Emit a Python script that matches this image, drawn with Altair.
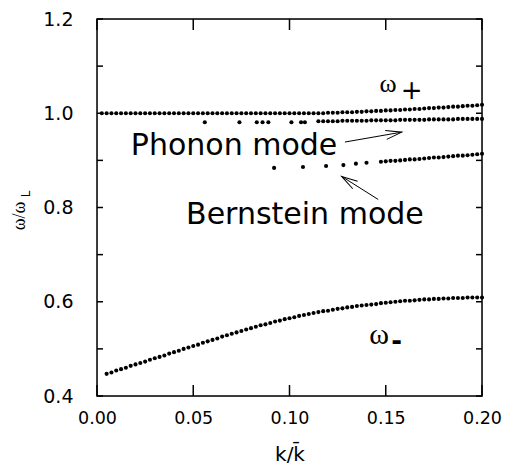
import altair as alt
import pandas as pd

# ---------------- data ----------------
K_MINUS = [0.005, 0.0075, 0.010, 0.0125, 0.015, 0.0175, 0.020, 0.0225, 0.025, 0.0275,
           0.030, 0.0325, 0.035, 0.0375, 0.040, 0.0425, 0.045, 0.0475, 0.050, 0.0525,
           0.055, 0.0575, 0.060, 0.0625, 0.065, 0.0675, 0.070, 0.0725, 0.075, 0.0775,
           0.080, 0.0825, 0.085, 0.0875, 0.090, 0.0925, 0.095, 0.0975, 0.100, 0.1025,
           0.105, 0.1075, 0.110, 0.1125, 0.115, 0.1175, 0.120, 0.1225, 0.125, 0.1275,
           0.130, 0.1325, 0.135, 0.1375, 0.140, 0.1425, 0.145, 0.1475, 0.150, 0.1525,
           0.155, 0.1575, 0.160, 0.1625, 0.165, 0.1675, 0.170, 0.1725, 0.175, 0.1775,
           0.180, 0.1825, 0.185, 0.1875, 0.190, 0.1925, 0.195, 0.1975, 0.200]
W_MINUS = [0.447, 0.450, 0.454, 0.457, 0.460, 0.464, 0.467, 0.470, 0.473, 0.477,
           0.480, 0.483, 0.486, 0.490, 0.493, 0.496, 0.500, 0.503, 0.506, 0.509,
           0.513, 0.516, 0.519, 0.522, 0.526, 0.529, 0.532, 0.535, 0.538, 0.541,
           0.544, 0.547, 0.550, 0.552, 0.555, 0.558, 0.560, 0.563, 0.565, 0.567,
           0.570, 0.572, 0.574, 0.576, 0.578, 0.580, 0.581, 0.583, 0.585, 0.586,
           0.588, 0.589, 0.591, 0.592, 0.593, 0.594, 0.595, 0.597, 0.598, 0.599,
           0.600, 0.601, 0.602, 0.602, 0.603, 0.604, 0.605, 0.605, 0.606, 0.606,
           0.607, 0.607, 0.608, 0.608, 0.608, 0.609, 0.609, 0.609, 0.609]

K_PLUS = [0.0025] + K_MINUS
W_PLUS = [1.000, 1.000, 1.000, 1.000, 1.000, 1.000, 1.000, 1.000, 1.000, 1.000,
          1.000, 1.000, 1.000, 1.000, 1.000, 1.000, 1.000, 1.000, 1.000, 1.000,
          1.000, 1.000, 1.000, 1.000, 1.000, 1.000, 1.000, 1.000, 1.000, 1.000,
          1.000, 1.000, 1.000, 1.000, 1.000, 1.000, 1.000, 1.000, 1.000, 1.000,
          1.000, 1.000, 1.000, 1.000, 1.000, 1.000, 1.000, 1.001, 1.001, 1.001,
          1.002, 1.002, 1.002, 1.003, 1.003, 1.004, 1.004, 1.005, 1.005, 1.006,
          1.006, 1.007, 1.007, 1.008, 1.008, 1.009, 1.009, 1.010, 1.011, 1.011,
          1.012, 1.012, 1.013, 1.014, 1.014, 1.015, 1.016, 1.016, 1.017, 1.018]

K_PHONON = [0.056, 0.074, 0.083, 0.086, 0.089, 0.101, 0.106, 0.108,
            0.115, 0.1175, 0.120, 0.1225, 0.125, 0.1275, 0.130, 0.1325, 0.135, 0.1375,
            0.140, 0.1425, 0.145, 0.1475, 0.150, 0.1525, 0.155, 0.1575, 0.160, 0.1625,
            0.165, 0.1675, 0.170, 0.1725, 0.175, 0.1775, 0.180, 0.1825, 0.185, 0.1875,
            0.190, 0.1925, 0.195, 0.1975, 0.200]
W_PHONON = [0.981, 0.981, 0.981, 0.981, 0.981, 0.981, 0.981, 0.981,
            0.983, 0.983, 0.983, 0.983, 0.983, 0.984, 0.984, 0.984, 0.984, 0.984,
            0.984, 0.985, 0.985, 0.985, 0.985, 0.985, 0.985, 0.986, 0.986, 0.986,
            0.986, 0.986, 0.986, 0.987, 0.987, 0.987, 0.987, 0.987, 0.987, 0.988,
            0.988, 0.988, 0.988, 0.988, 0.988]

K_BERN = [0.092, 0.107, 0.119, 0.128, 0.1345, 0.140,
          0.1475, 0.150, 0.1525, 0.155, 0.1575, 0.160, 0.1625, 0.165, 0.1675, 0.170,
          0.1725, 0.175, 0.1775, 0.180, 0.1825, 0.185, 0.1875, 0.190, 0.1925, 0.195,
          0.1975, 0.200]
W_BERN = [0.884, 0.886, 0.888, 0.890, 0.893, 0.895,
          0.897, 0.898, 0.899, 0.899, 0.900, 0.901, 0.902, 0.902, 0.903, 0.904,
          0.905, 0.906, 0.906, 0.907, 0.908, 0.909, 0.910, 0.910, 0.911, 0.912,
          0.913, 0.914]

X_TICKS = [0.0, 0.05, 0.10, 0.15, 0.20]
Y_TICKS = [0.4, 0.6, 0.8, 1.0, 1.2]
Y_MINOR = [0.4, 0.5, 0.6, 0.7, 0.8, 0.9, 1.0, 1.1, 1.2]

# annotations (data coordinates)
MODE_TEXT = ["Phonon mode", "Bernstein mode"]
MODE_K = [0.0712, 0.108]
MODE_W = [0.9107, 0.7658]

OMEGA_TEXT = ["ω", "ω"]
OMEGA_K = [0.1512, 0.1465]
OMEGA_W = [1.0445, 0.511]
OMEGA_SIZE = [26, 30]

SIGN_TEXT = ["+", "-"]
SIGN_K = [0.1634, 0.1556]
SIGN_W = [1.031, 0.4977]
SIGN_SIZE = [26, 26]

ARROW_K = [0.1288, 0.1461]
ARROW_W = [0.9389, 0.817]
ARROW_K2 = [0.1583, 0.1271]
ARROW_W2 = [0.9599, 0.866]
ARROW_ANGLE = [350, 212.5]

W, H = 385, 377

# ---------------- build tables ----------------
pts = pd.concat([
    pd.DataFrame({"k": K_PLUS, "w": W_PLUS, "s": "plus"}),
    pd.DataFrame({"k": K_MINUS, "w": W_MINUS, "s": "minus"}),
    pd.DataFrame({"k": K_PHONON, "w": W_PHONON, "s": "phonon"}),
    pd.DataFrame({"k": K_BERN, "w": W_BERN, "s": "bernstein"}),
], ignore_index=True)

xscale = alt.Scale(domain=[0, 0.2], nice=False, zero=False)
yscale = alt.Scale(domain=[0.4, 1.2], nice=False, zero=False)

x_axis = alt.Axis(values=X_TICKS, format=".2f", grid=False, ticks=False, tickSize=0,
                  domain=False, labelFont="DejaVu Sans", labelFontSize=17.5,
                  labelColor="black", labelPadding=13, labelBound=False,
                  labelFlush=False, labelOverlap=False,
                  title="k/k\u0304", titleFont="DejaVu Sans", titleFontSize=20,
                  titleFontWeight="normal", titleColor="black", titlePadding=18)
y_axis = alt.Axis(values=Y_TICKS, format=".1f", grid=False, ticks=False, tickSize=0,
                  domain=False, labelFont="DejaVu Sans", labelFontSize=19,
                  labelColor="black", labelPadding=24, labelBound=False,
                  labelFlush=False, labelOverlap=False, title=None)

dots = alt.Chart(pts).mark_circle(size=17, color="black", opacity=1).encode(
    x=alt.X("k:Q", scale=xscale, axis=x_axis),
    y=alt.Y("w:Q", scale=yscale, axis=y_axis),
    detail="s:N",
)

frame = alt.Chart(pd.DataFrame({"f": [0]})).mark_rect(
    fill=None, stroke="black", strokeWidth=1.5, fillOpacity=0
).encode(x=alt.value(0), x2=alt.value(W), y=alt.value(0), y2=alt.value(H))

xt = pd.DataFrame({"t": X_TICKS})
yt = pd.DataFrame({"t": Y_MINOR})
tick_bottom = alt.Chart(xt).mark_rule(color="black", strokeWidth=1.5).encode(
    x=alt.X("t:Q", scale=xscale), y=alt.value(H), y2=alt.value(H - 11))
tick_top = alt.Chart(xt).mark_rule(color="black", strokeWidth=1.5).encode(
    x=alt.X("t:Q", scale=xscale), y=alt.value(0), y2=alt.value(11))
tick_left = alt.Chart(yt).mark_rule(color="black", strokeWidth=1.5).encode(
    y=alt.Y("t:Q", scale=yscale), x=alt.value(0), x2=alt.value(6))
tick_right = alt.Chart(yt).mark_rule(color="black", strokeWidth=1.5).encode(
    y=alt.Y("t:Q", scale=yscale), x=alt.value(W), x2=alt.value(W - 6))

modes = alt.Chart(pd.DataFrame({"t": MODE_TEXT, "k": MODE_K, "w": MODE_W})).mark_text(
    font="DejaVu Sans", fontSize=30, color="black", align="center", baseline="alphabetic"
).encode(x=alt.X("k:Q", scale=xscale), y=alt.Y("w:Q", scale=yscale), text="t:N")

omegas = alt.Chart(pd.DataFrame({"t": OMEGA_TEXT, "k": OMEGA_K, "w": OMEGA_W,
                                 "fs": OMEGA_SIZE})).mark_text(
    font="Liberation Serif", color="black", align="center", baseline="alphabetic"
).encode(x=alt.X("k:Q", scale=xscale), y=alt.Y("w:Q", scale=yscale), text="t:N",
         size=alt.Size("fs:Q", scale=None, legend=None))

signs_df = pd.DataFrame({"t": SIGN_TEXT, "k": SIGN_K, "w": SIGN_W, "fs": SIGN_SIZE})
sign_plus = alt.Chart(signs_df.iloc[[0]]).mark_text(
    font="DejaVu Sans", color="black", align="center", baseline="alphabetic",
    fontWeight="normal"
).encode(x=alt.X("k:Q", scale=xscale), y=alt.Y("w:Q", scale=yscale), text="t:N",
         size=alt.Size("fs:Q", scale=None, legend=None))
sign_minus = alt.Chart(signs_df.iloc[[1]]).mark_text(
    font="DejaVu Sans", color="black", align="center", baseline="alphabetic",
    fontWeight="bold"
).encode(x=alt.X("k:Q", scale=xscale), y=alt.Y("w:Q", scale=yscale), text="t:N",
         size=alt.Size("fs:Q", scale=None, legend=None))

arrows_df = pd.DataFrame({"k": ARROW_K, "w": ARROW_W, "k2": ARROW_K2, "w2": ARROW_W2,
                          "a": ARROW_ANGLE})
arrow_lines = alt.Chart(arrows_df).mark_rule(color="black", strokeWidth=1).encode(
    x=alt.X("k:Q", scale=xscale), y=alt.Y("w:Q", scale=yscale), x2="k2:Q", y2="w2:Q")
arrow_heads = alt.Chart(arrows_df).mark_point(
    shape="M -1 -0.28 L 0 0 L -1 0.28", filled=False, color="black", strokeWidth=1,
    size=1024, opacity=1
).encode(x=alt.X("k2:Q", scale=xscale), y=alt.Y("w2:Q", scale=yscale),
         angle=alt.Angle("a:Q", scale=None))

ytitle = alt.Chart(pd.DataFrame({"t": ["ω/ω"]})).mark_text(
    font="Liberation Serif", fontSize=18, angle=270, align="center",
    baseline="alphabetic", color="black"
).encode(text="t:N", x=alt.value(-72), y=alt.value(197))
ytitle_sub = alt.Chart(pd.DataFrame({"t": ["L"]})).mark_text(
    font="DejaVu Sans", fontSize=12, angle=270, align="center",
    baseline="alphabetic", color="black"
).encode(text="t:N", x=alt.value(-67), y=alt.value(175))

chart = alt.layer(
    dots, frame, tick_bottom, tick_top, tick_left, tick_right,
    modes, omegas, sign_plus, sign_minus, arrow_lines, arrow_heads, ytitle, ytitle_sub
).properties(
    width=W, height=H, autosize="none",
    padding={"left": 89, "top": 11, "right": 20, "bottom": 72},
).configure_view(stroke=None).configure(background="white")

chart.save("out.html", embed_options={"renderer": "svg", "actions": False})
